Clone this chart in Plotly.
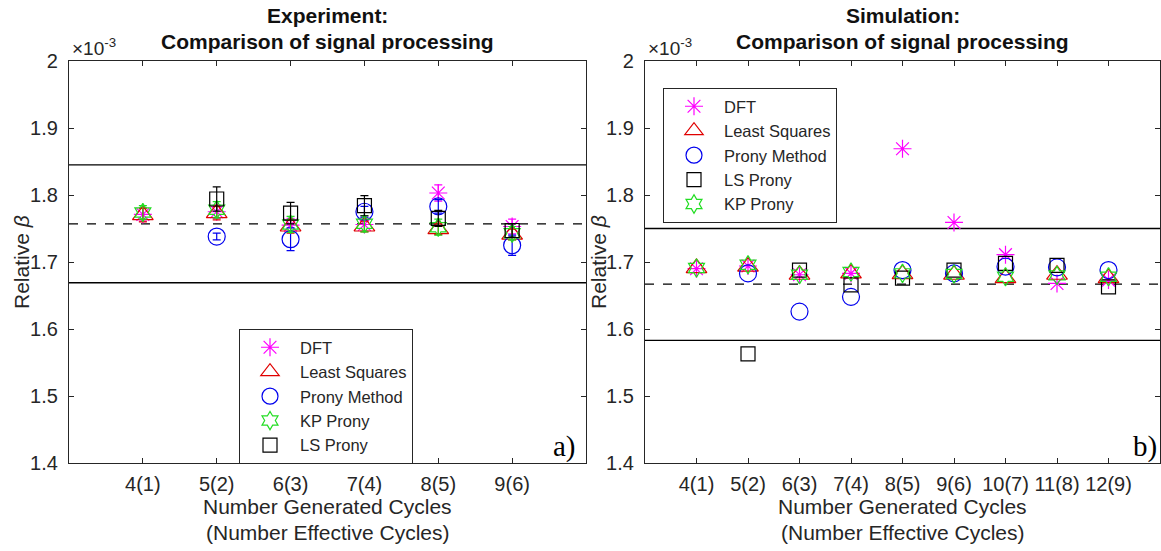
import plotly.graph_objects as go

# ---------------- data (values in units of 1e-3) ----------------
exp_cycles = [4, 5, 6, 7, 8, 9]
exp_labels = ["4(1)", "5(2)", "6(3)", "7(4)", "8(5)", "9(6)"]

exp_dft = [1.771, 1.775, 1.755, 1.756, 1.803, 1.753]
exp_dft_err = [0.010, 0.010, 0.010, 0.010, 0.012, 0.011]
exp_ls = [1.770, 1.773, 1.753, 1.753, 1.749, 1.741]
exp_ls_err = [0.010, 0.010, 0.010, 0.008, 0.008, 0.008]
exp_prony = [None, 1.738, 1.734, 1.775, 1.783, 1.725]
exp_prony_err = [0, 0.005, 0.017, 0.008, 0.010, 0.015]
exp_kp = [1.774, 1.778, 1.756, 1.757, 1.752, 1.743]
exp_kp_err = [0.010, 0.012, 0.012, 0.012, 0.012, 0.010]
exp_lsp = [None, 1.794, 1.773, 1.784, 1.765, 1.747]
exp_lsp_err = [0, 0.018, 0.016, 0.015, 0.012, 0.010]
exp_ref_lines = [1.669, 1.757, 1.845]  # lower bound, mean, upper bound

sim_cycles = [4, 5, 6, 7, 8, 9, 10, 11, 12]
sim_labels = ["4(1)", "5(2)", "6(3)", "7(4)", "8(5)", "9(6)", "10(7)", "11(8)", "12(9)"]

sim_dft = [1.690, 1.694, 1.681, 1.683, 1.869, 1.759, 1.711, 1.668, 1.673]
sim_ls = [1.691, 1.693, 1.681, 1.683, 1.682, 1.681, 1.676, 1.681, 1.676]
sim_prony = [None, 1.683, 1.626, 1.648, 1.688, 1.683, 1.693, 1.692, 1.688]
sim_lsp = [None, 1.563, 1.688, 1.666, 1.676, 1.688, 1.698, 1.695, 1.663]
sim_kp = [1.691, 1.696, 1.681, 1.685, 1.683, 1.682, 1.678, 1.680, 1.678]
sim_ref_lines = [1.583, 1.667, 1.750]

y_ticks = [1.4, 1.5, 1.6, 1.7, 1.8, 1.9, 2.0]
y_ticktext = ["1.4", "1.5", "1.6", "1.7", "1.8", "1.9", "2"]

# ---------------- styles ----------------
AX = "#262626"
FONT = "Liberation Sans, Arial, sans-serif"
styles = {
    "DFT": dict(symbol="asterisk-open", color="#ff00ff", size=15),
    "Least Squares": dict(symbol="triangle-up-open", color="#e00000", size=18),
    "Prony Method": dict(symbol="circle-open", color="#0000ee", size=17),
    "KP Prony": dict(symbol="hexagram-open", color="#22dd22", size=14),
    "LS Prony": dict(symbol="square-open", color="#000000", size=14),
}

fig = go.Figure()


def add_series(name, x, y, err, xa, ya, legend):
    st = styles[name]
    kw = {}
    if err is not None:
        kw["error_y"] = dict(type="data", array=err, color=st["color"],
                             thickness=1.2, width=4)
    fig.add_trace(go.Scatter(
        x=x, y=y, mode="markers", name=name, xaxis=xa, yaxis=ya, legend=legend,
        marker=dict(symbol=st["symbol"], size=st["size"],
                    color=st["color"], line=dict(color=st["color"], width=1.2)),
        **kw))


# Experiment panel
add_series("DFT", exp_cycles, exp_dft, exp_dft_err, "x", "y", "legend")
add_series("Least Squares", exp_cycles, exp_ls, exp_ls_err, "x", "y", "legend")
add_series("Prony Method", exp_cycles, exp_prony, exp_prony_err, "x", "y", "legend")
add_series("KP Prony", exp_cycles, exp_kp, exp_kp_err, "x", "y", "legend")
add_series("LS Prony", exp_cycles, exp_lsp, exp_lsp_err, "x", "y", "legend")

# Simulation panel
add_series("DFT", sim_cycles, sim_dft, None, "x2", "y2", "legend2")
add_series("Least Squares", sim_cycles, sim_ls, None, "x2", "y2", "legend2")
add_series("Prony Method", sim_cycles, sim_prony, None, "x2", "y2", "legend2")
add_series("LS Prony", sim_cycles, sim_lsp, None, "x2", "y2", "legend2")
add_series("KP Prony", sim_cycles, sim_kp, None, "x2", "y2", "legend2")

# reference lines (mean dashed, +/-5 % bounds solid)
for xr, yr, vals in (("x", "y", exp_ref_lines), ("x2", "y2", sim_ref_lines)):
    for i, v in enumerate(vals):
        fig.add_shape(type="line", xref=f"{xr} domain", yref=yr, x0=0, x1=1,
                      y0=v, y1=v, layer="below",
                      line=dict(color="#000000", width=1.3,
                                dash="dash" if i == 1 else "solid"))

common_axis = dict(showline=True, linecolor=AX, linewidth=1.2, mirror="ticks",
                   ticks="inside", ticklen=5, tickcolor=AX, showgrid=False,
                   zeroline=False, automargin=False,
                   tickfont=dict(family=FONT, size=20, color=AX))

xd1 = [69 / 1161, 586 / 1161]
xd2 = [645 / 1161, 1160 / 1161]
yd = [1 - 463 / 551, 1 - 61 / 551]

legend_common = dict(xanchor="left", yanchor="top", bgcolor="white",
                     bordercolor="#262626", borderwidth=1, tracegroupgap=0,
                     itemwidth=50, font=dict(family=FONT, size=16.5, color=AX))

fig.update_layout(
    width=1161, height=551,
    margin=dict(l=0, r=0, t=0, b=0, autoexpand=False),
    paper_bgcolor="white", plot_bgcolor="white",
    font=dict(family=FONT, color=AX),
    xaxis=dict(common_axis, domain=xd1, range=[3, 10], tickvals=exp_cycles,
               ticktext=exp_labels, anchor="y", ticklabelstandoff=3),
    yaxis=dict(common_axis, domain=yd, range=[1.4, 2.0], tickvals=y_ticks,
               ticktext=y_ticktext, anchor="x", ticklabelstandoff=6),
    xaxis2=dict(common_axis, domain=xd2, range=[3, 13], tickvals=sim_cycles,
                ticktext=sim_labels, anchor="y2", ticklabelstandoff=3),
    yaxis2=dict(common_axis, domain=yd, range=[1.4, 2.0], tickvals=y_ticks,
                ticktext=y_ticktext, anchor="x2", ticklabelstandoff=6),
    legend=dict(legend_common, x=239 / 1161, y=1 - 329 / 551),
    legend2=dict(legend_common, x=663 / 1161, y=1 - 88 / 551),
)


def px_x(p):
    return p / 1161


def px_y(p):
    return 1 - p / 551


def text_at(xp, yp, text, size, color=AX, family=FONT, xanchor="center", angle=0):
    fig.add_annotation(x=px_x(xp), y=px_y(yp), xref="paper", yref="paper",
                       xanchor=xanchor, yanchor="middle", text=text,
                       textangle=angle, showarrow=False,
                       font=dict(family=family, size=size, color=color))


for cx, title, ylab_x, tag, tag_x in ((327.5, "Experiment:", 21, "a)", 578),
                                     (902.5, "Simulation:", 598, "b)", 1159)):
    text_at(cx, 15, f"<b>{title}</b>", 21, color="#111111")
    text_at(cx, 42, "<b>Comparison of signal processing</b>", 21, color="#111111")
    text_at(cx, 506, "Number Generated Cycles", 21)
    text_at(cx, 532, "(Number Effective Cycles)", 21)
    text_at(ylab_x, 262, "Relative <i>β</i>", 21, angle=-90)
    text_at(tag_x, 446, tag, 29, color="#000000",
            family="Liberation Serif, Times New Roman, serif", xanchor="right")

for left in (69, 645):
    text_at(left + 1, 47, "×10<sup>-3</sup>", 19, xanchor="left")

fig.write_html("out.html")
